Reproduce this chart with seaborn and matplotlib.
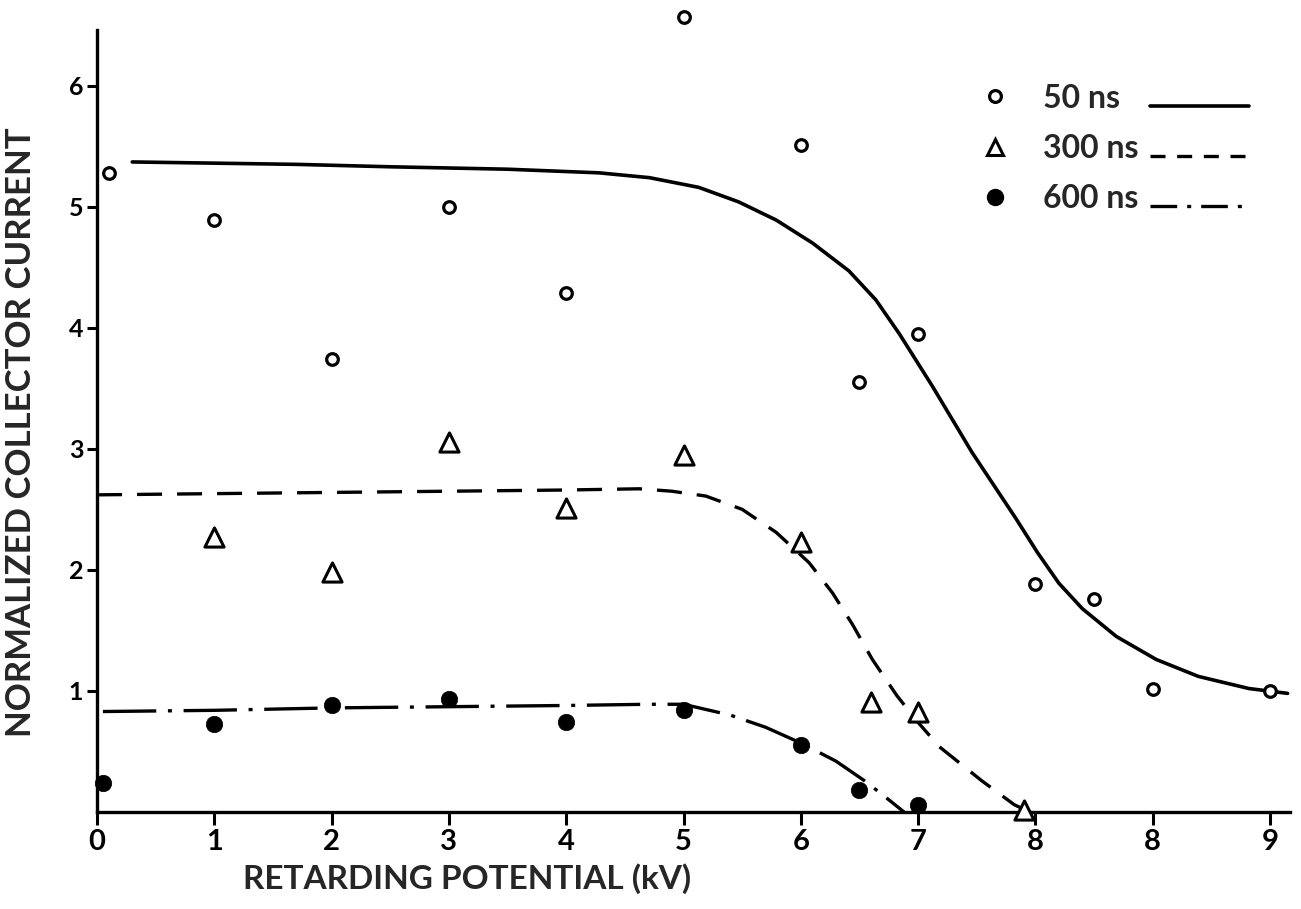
import matplotlib
matplotlib.use("Agg")
import matplotlib.pyplot as plt
from matplotlib.lines import Line2D
import seaborn as sns

# ---------------- data ----------------
tick_pos = [0, 1, 2, 3, 4, 5, 6, 7, 8, 9, 10]
tick_labels = ["0", "1", "2", "3", "4", "5", "6", "7", "8", "8", "9"]
ytick_pos = [1, 2, 3, 4, 5, 6]

# measured points
p50_x = [0.1, 1.0, 2.0, 3.0, 4.0, 5.0, 6.0, 6.5, 7.0, 8.0, 8.5, 9.0, 10.0]
p50_y = [5.28, 4.89, 3.74, 5.0, 4.29, 6.57, 5.51, 3.55, 3.95, 1.88, 1.76, 1.02, 1.0]

p300_x = [1.0, 2.0, 3.0, 4.0, 5.0, 6.0, 6.6, 7.0, 7.9]
p300_y = [2.27, 1.98, 3.06, 2.51, 2.95, 2.23, 0.91, 0.83, 0.02]

p600_x = [0.05, 1.0, 2.0, 3.0, 4.0, 5.0, 6.0, 6.5, 7.0]
p600_y = [0.24, 0.73, 0.88, 0.93, 0.74, 0.84, 0.55, 0.18, 0.06]

# hand-drawn fitted curves
c50_x = [0.3, 1.0, 1.7, 2.5, 3.5, 4.28, 4.71, 5.13, 5.47, 5.79, 6.10, 6.41, 6.64,
         6.84, 7.12, 7.46, 7.83, 8.02, 8.20, 8.40, 8.69, 9.03, 9.39, 9.82, 10.15]
c50_y = [5.37, 5.36, 5.35, 5.33, 5.31, 5.28, 5.24, 5.16, 5.04, 4.89, 4.70, 4.47, 4.23,
         3.95, 3.52, 2.97, 2.43, 2.14, 1.89, 1.68, 1.45, 1.26, 1.12, 1.02, 0.98]

c300_x = [0.0, 1.0, 2.0, 3.0, 4.0, 4.62, 4.90, 5.19, 5.50, 5.79, 6.07, 6.27, 6.44,
          6.61, 6.82, 7.00, 7.18, 7.54, 7.82, 7.95]
c300_y = [2.62, 2.63, 2.64, 2.65, 2.66, 2.67, 2.65, 2.61, 2.50, 2.31, 2.06, 1.81, 1.55,
          1.26, 0.96, 0.74, 0.54, 0.26, 0.06, 0.0]

c600_x = [0.05, 1.0, 2.0, 3.0, 4.0, 4.7, 5.0, 5.4, 5.7, 6.0, 6.3, 6.54, 6.7, 6.88]
c600_y = [0.83, 0.84, 0.86, 0.87, 0.88, 0.89, 0.89, 0.80, 0.70, 0.57, 0.42, 0.26, 0.14, 0.0]

series_labels = ["50 ns", "300 ns", "600 ns"]
x_label = "RETARDING POTENTIAL (kV)"
y_label = "NORMALIZED COLLECTOR CURRENT"

# ---------------- style ----------------
sns.set_style("white")
plt.rcParams["font.family"] = ["Lato", "DejaVu Sans"]
plt.rcParams["font.weight"] = "bold"

fig = plt.figure(figsize=(13.01, 9.09), dpi=100)
ax = fig.add_axes([0.0746, 0.1067, 0.9169, 0.8603])

LW = 2.4
# curves
sns.lineplot(x=c50_x, y=c50_y, sort=False, color="black", lw=2.6,
             linestyle="-", ax=ax, clip_on=False)
sns.lineplot(x=c300_x, y=c300_y, sort=False, color="black", lw=LW,
             linestyle=(0, (7.5, 4.5)), ax=ax, clip_on=False)
sns.lineplot(x=c600_x, y=c600_y, sort=False, color="black", lw=LW,
             linestyle=(0, (16, 3.5, 1.2, 3.5)), ax=ax, clip_on=False)

# points
sns.scatterplot(x=p50_x, y=p50_y, marker="o", s=70, facecolor="white",
                edgecolor="black", linewidth=2.3, ax=ax, clip_on=False, zorder=5)
sns.scatterplot(x=p300_x, y=p300_y, marker="^", s=190, facecolor="white",
                edgecolor="black", linewidth=2.2, ax=ax, clip_on=False, zorder=5)
sns.scatterplot(x=p600_x, y=p600_y, marker="o", s=140, color="black",
                edgecolor="black", linewidth=0.5, ax=ax, clip_on=False, zorder=5)

# axes
ax.set_xlim(0, 10.17)
ax.set_ylim(0, 6.46)
sns.despine(ax=ax)
for s in ["left", "bottom"]:
    ax.spines[s].set_linewidth(2.4)
    ax.spines[s].set_color("black")

ax.set_xticks(tick_pos)
ax.set_xticklabels(tick_labels)
ax.set_yticks(ytick_pos)
ax.set_yticklabels([str(v) for v in ytick_pos])
ax.tick_params(axis="x", direction="out", length=9, width=2.2, pad=3,
               labelsize=21, colors="black", bottom=True)
ax.tick_params(axis="y", direction="out", length=7, width=2.2, pad=3,
               labelsize=18, colors="black", left=True)

ax.set_xlabel(x_label, fontsize=24, fontweight="bold")
ax.xaxis.set_label_coords(0.31, -0.066)
ax.set_ylabel(y_label, fontsize=25, fontweight="bold", va="center")
ax.yaxis.set_label_coords(-0.064, 0.486)

# legend: markers + labels
mk_handles = [
    Line2D([], [], marker="o", ls="none", mfc="white", mec="black", ms=8.5, mew=2.3),
    Line2D([], [], marker="^", ls="none", mfc="white", mec="black", ms=12, mew=2.2),
    Line2D([], [], marker="o", ls="none", mfc="black", mec="black", ms=11.5),
]
leg1 = ax.legend(mk_handles, series_labels, loc="upper left",
                 bbox_to_anchor=(0.74, 0.9256), bbox_transform=fig.transFigure,
                 frameon=False, fontsize=23, handlelength=1.0,
                 handletextpad=1.0, labelspacing=0.66, borderpad=0)
ax.add_artist(leg1)

ln_handles = [
    Line2D([], [], color="black", lw=2.6, ls="-"),
    Line2D([], [], color="black", lw=LW, ls=(0, (4.5, 3.5))),
    Line2D([], [], color="black", lw=LW, ls=(0, (8, 3, 1.2, 3))),
]
leg2 = ax.legend(ln_handles, ["", "", ""], loc="upper left",
                 bbox_to_anchor=(0.872, 0.9156), bbox_transform=fig.transFigure,
                 frameon=False, fontsize=23, handlelength=3.1,
                 handletextpad=0.0, labelspacing=0.66, borderpad=0)

fig.savefig("out.png", dpi=100)
